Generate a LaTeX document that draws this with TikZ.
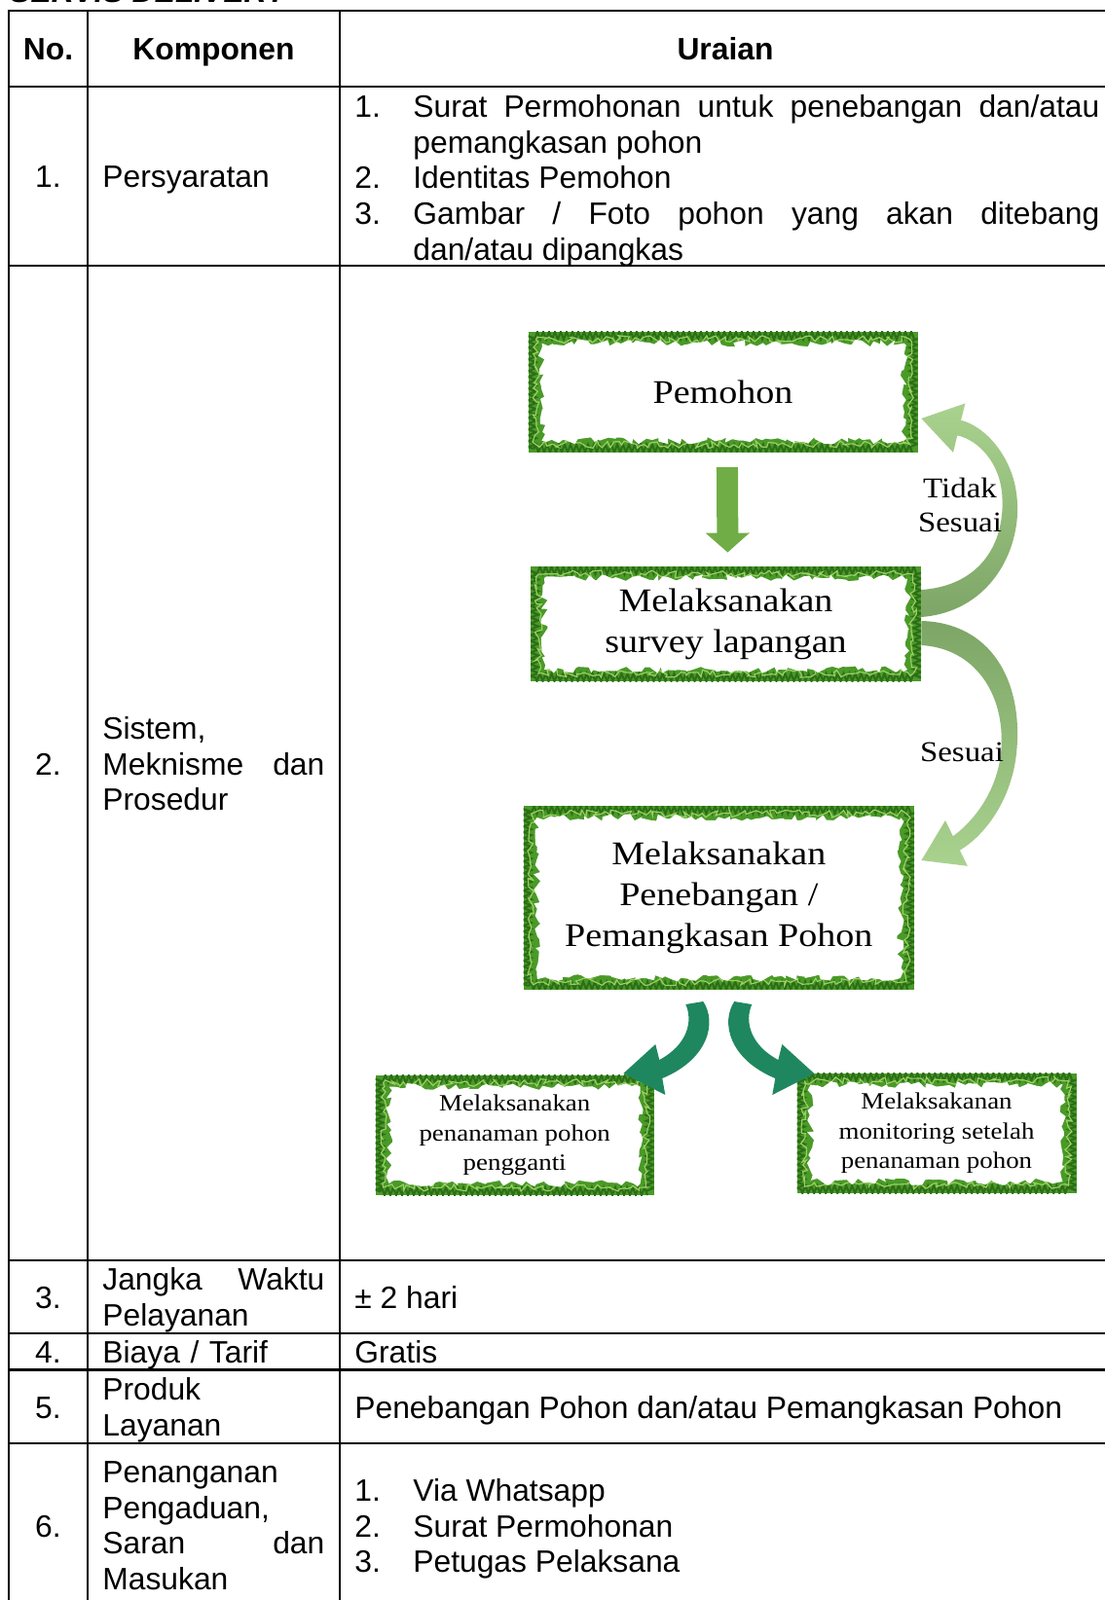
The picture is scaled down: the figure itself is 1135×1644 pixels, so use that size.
\documentclass[tikz,border=0pt]{standalone}
\usepackage{fontspec}
\setmainfont{Liberation Sans}
\newfontfamily\flowfont[FakeStretch=1.12]{Liberation Serif}
\usetikzlibrary{arrows.meta,calc,decorations.pathmorphing}
\tolerance=10000
\hyphenpenalty=10000

\definecolor{grass}{HTML}{4A9A28}
\definecolor{grasslight}{HTML}{9BCF63}
\definecolor{grassdark}{HTML}{2C6E17}
\definecolor{stepgreen}{HTML}{70AD47}
\definecolor{loopdark}{HTML}{7DA566}
\definecolor{looplight}{HTML}{AAD28F}
\definecolor{plantteal}{HTML}{1F875F}

\newcommand\itm[2]{\hangindent=30pt\hangafter=1\noindent\makebox[30pt][l]{#1}#2\par}

\tikzset{
  cell/.style={inner sep=0pt, font=\fontsize{15.9}{18.35}\selectfont},
  headcell/.style={cell, anchor=base, font=\fontsize{15.9}{18.35}\selectfont\bfseries},
  numcell/.style={cell, anchor=base},
  komp/.style={cell, anchor=base west, text width=114pt, align=left},
  urai/.style={cell, anchor=base west, text width=382.5pt, align=justify},
  tabline/.style={line width=1.1pt},
  grassbox/.style={fill=grass, inner sep=0pt, align=center,
    font=\flowfont\fontsize{17}{21}\selectfont,
    path picture={
      \draw[grassdark, line width=1pt, decorate,
        decoration={zigzag, segment length=3pt, amplitude=2pt}]
        ([shift={(2pt,2pt)}]path picture bounding box.south west) rectangle
        ([shift={(-2pt,-2pt)}]path picture bounding box.north east);
      \draw[grasslight, line width=0.6pt, decorate,
        decoration={random steps, segment length=2pt, amplitude=2pt}]
        ([shift={(4pt,4pt)}]path picture bounding box.south west) rectangle
        ([shift={(-4pt,-4pt)}]path picture bounding box.north east);
      \fill[white, decorate,
        decoration={random steps, segment length=2.5pt, amplitude=1.8pt}]
        ([shift={(7pt,6pt)}]path picture bounding box.south west) rectangle
        ([shift={(-7pt,-6pt)}]path picture bounding box.north east);
    }},
  smallbox/.style={grassbox, font=\flowfont\fontsize{12}{15.2}\selectfont},
  looplabel/.style={inner sep=0pt, align=center,
    font=\flowfont\fontsize{14.7}{17.8}\selectfont},
  downarrow/.style={stepgreen, line width=11pt,
    -{Triangle[length=10pt, width=22pt]}, shorten <=7.5pt, shorten >=7pt},
}

\begin{document}
\begin{tikzpicture}[x=0.5pt, y=-0.5pt]
  \useasboundingbox (0,0) rectangle (1135,1644);
  \clip (0,0) rectangle (1135,1644);
  \node[cell, anchor=base west, font=\fontsize{15.9}{18.35}\selectfont\bfseries\itshape]
    (judul) at (10,2.7) {SERVIS DELIVERY};

  \draw[tabline] (1140,10.7) -| (9,1650);
  \draw[tabline] (90,10.7) -- (90,1650);
  \draw[tabline] (349,10.7) -- (349,1650);
  \foreach \y in {89,273,1295,1370,1407.5,1483}
    \draw[tabline] (9,\y) -- (1140,\y);

  \node[headcell] (hno) at (49.5,61.4) {No.};
  \node[headcell] (hkomp) at (219.5,61.4) {Komponen};
  \node[headcell] (hurai) at (745,61.4) {Uraian};

  \node[numcell] (no1) at (49.5,192.4) {1.};
  \node[komp] (k1) at (105,192.4) {Persyaratan};
  \node[urai] (u1) at (364,120.4) {%
    \itm{1.}{Surat Permohonan untuk penebangan dan/atau\linebreak pemangkasan pohon}%
    \itm{2.}{Identitas Pemohon}%
    \itm{3.}{Gambar / Foto pohon yang akan ditebang\linebreak dan/atau dipangkas}};

  \node[numcell] (no2) at (49.5,796.4) {2.};
  \node[komp] (k2) at (105,759.4) {Sistem,\\Meknisme\hfill dan\\Prosedur};

  \node[numcell] (no3) at (49.5,1344.4) {3.};
  \node[komp] (k3) at (105,1325.4) {Jangka\hfill Waktu\\Pelayanan};
  \node[urai] (u3) at (364,1344.4) {± 2 hari};

  \node[numcell] (no4) at (49.5,1400.9) {4.};
  \node[komp] (k4) at (105,1400.9) {Biaya / Tarif};
  \node[urai] (u4) at (364,1400.9) {Gratis};

  \node[numcell] (no5) at (49.5,1457.4) {5.};
  \node[komp] (k5) at (105,1438.4) {Produk\\Layanan};
  \node[urai] (u5) at (364,1457.4) {Penebangan Pohon dan/atau Pemangkasan Pohon};

  \node[numcell] (no6) at (49.5,1579.4) {6.};
  \node[komp] (k6) at (105,1523.4) {Penanganan\\Pengaduan,\\Saran\hfill dan\\Masukan};
  \node[urai] (u6) at (364,1542.4) {%
    \itm{1.}{Via Whatsapp}\itm{2.}{Surat Permohonan}\itm{3.}{Petugas Pelaksana}};

  \node[grassbox, minimum width=200pt, minimum height=62pt]
    (pemohon) at (742.5,402.7) {Pemohon};
  \node[grassbox, minimum width=200.5pt, minimum height=59pt]
    (survey) at (745.5,641) {Melaksanakan\\survey lapangan};
  \node[grassbox, minimum width=200.7pt, minimum height=94.3pt]
    (tebang) at (738.3,922.3) {Melaksanakan\\Penebangan /\\Pemangkasan Pohon};
  \node[smallbox, minimum width=143pt, minimum height=61.7pt]
    (pengganti) at (528.7,1166.3) {Melaksanakan\\penanaman pohon\\pengganti};
  \node[smallbox, minimum width=143.5pt, minimum height=61.8pt]
    (monitoring) at (962,1164.3) {Melaksakanan\\monitoring setelah\\penanaman pohon};

  \draw[downarrow] ([xshift=2.2pt]pemohon.south) -- ([xshift=1pt]survey.north);

  \begin{scope}[shift={(survey.east)}]
    \shade[top color=looplight, bottom color=loopdark]
      (0,-7) .. controls (74,-13) and (104,-81) .. (98,-131)
      .. controls (94,-171) and (66,-203) .. (40.7,-209.2)
      -- (45,-226.6) -- (0,-211) -- (32.6,-176.2) -- (36.9,-193.6)
      .. controls (58,-189) and (81,-166) .. (83,-131)
      .. controls (86,-81) and (59,-39) .. (0,-35) -- cycle;
    \shade[top color=loopdark, bottom color=looplight]
      (0,-3) .. controls (72,-1) and (104,59) .. (98,129)
      .. controls (94,179) and (66,217) .. (39.5,232.6)
      -- (47.4,248.8) -- (0,243) -- (24.6,202) -- (32.5,218.2)
      .. controls (56,201) and (79,169) .. (82,129)
      .. controls (86,71) and (54,25) .. (0,22) -- cycle;
  \end{scope}
  \node[looplabel] (tidak) at (986,519) {Tidak\\Sesuai};
  \node[looplabel] (sesuai) at (988,773) {Sesuai};

  \foreach \s in {1,-1}
    \fill[plantteal, shift={(tebang.south)}, xscale=\s]
      (-16,12) .. controls (-2,33) and (-10,71) .. (-58,91)
      -- (-55,108) -- (-98,86) -- (-65,56) -- (-61,72)
      .. controls (-33,57) and (-26,33) .. (-34,15) -- cycle;
\end{tikzpicture}
\end{document}
